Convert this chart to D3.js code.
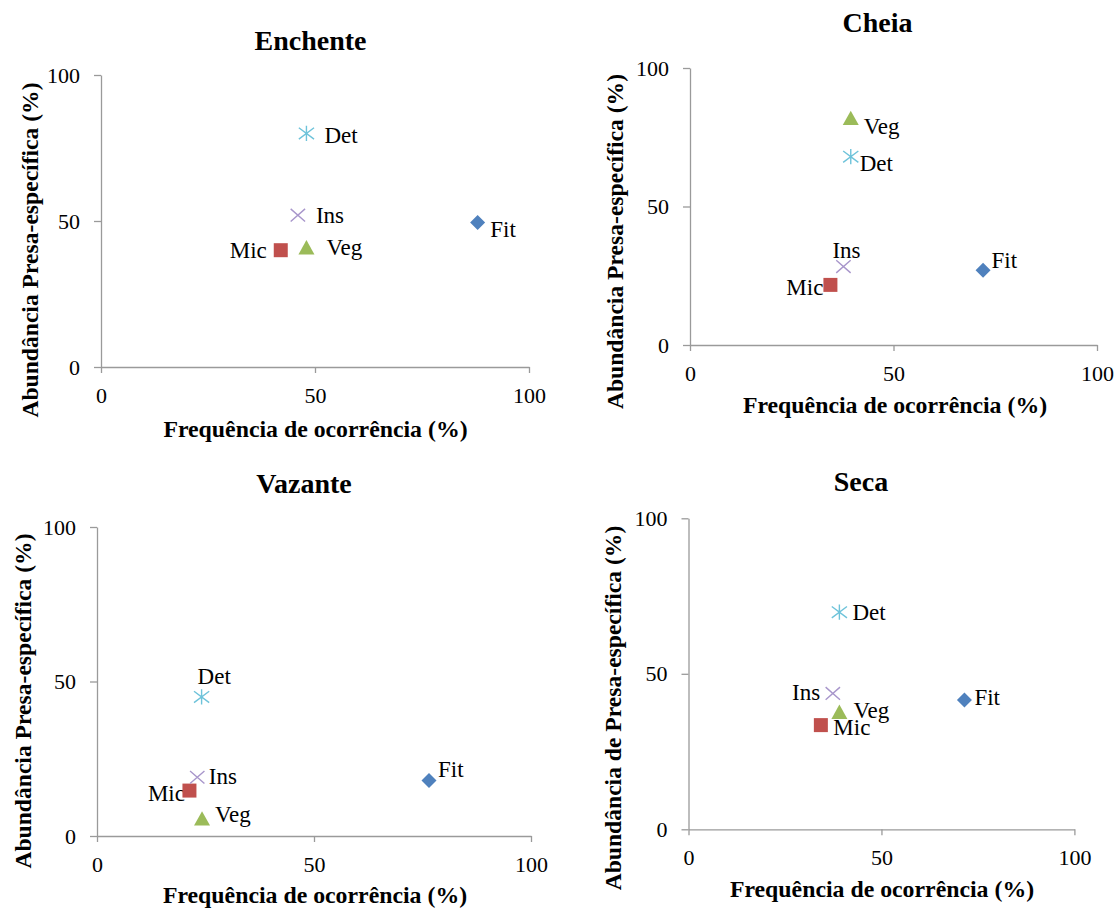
<!DOCTYPE html>
<html>
<head>
<meta charset="utf-8">
<script src="https://cdn.jsdelivr.net/npm/d3@7"></script>
<style>
  html, body { margin: 0; padding: 0; background: #fff; }
  svg { display: block; }
  text { font-family: "Liberation Serif", "Times New Roman", serif; fill: #000; }
</style>
</head>
<body>
<svg id="chart" width="1120" height="909"></svg>
<script>
// Prey categories and their values per hydrological season
const categories = ["Fit", "Mic", "Veg", "Ins", "Det"];

const enchenteFreq  = [88, 42, 48, 46, 48];
const enchenteAbund = [49.5, 40, 41, 52, 80];

const cheiaFreq  = [72, 34.5, 39.5, 37.7, 39.5];
const cheiaAbund = [27, 21.7, 82, 28.3, 68];

const vazanteFreq  = [76.5, 21.3, 24.2, 23.1, 24.1];
const vazanteAbund = [18, 14.7, 5.7, 19, 45];

const secaFreq  = [71.5, 34.3, 39.1, 37.4, 39.1];
const secaAbund = [41.6, 33.5, 37.8, 43.7, 69.8];

const tickValues = [0, 50, 100];
const seasonTitles = ["Enchente", "Cheia", "Vazante", "Seca"];
const xAxisTitle = "Frequência de ocorrência (%)";
const yAxisTitles = [
  "Abundância Presa-específica (%)",
  "Abundância Presa-específica (%)",
  "Abundância Presa-específica (%)",
  "Abundância de Presa-específica (%)"
];

// Marker styles per category
const markerStyle = {
  Fit: { shape: "diamond",  fill: "#4F81BD", stroke: "none" },
  Mic: { shape: "square",   fill: "#C0504D", stroke: "none" },
  Veg: { shape: "triangle", fill: "#9BBB59", stroke: "none" },
  Ins: { shape: "times",    fill: "none",    stroke: "#A896CB" },
  Det: { shape: "star",     fill: "none",    stroke: "#6EC3DA" }
};

// Custom symbol types; "size" is used as the half extent of the marker
const symbolTypes = {
  diamond:  { draw(c, s) { c.moveTo(0, -s); c.lineTo(s, 0); c.lineTo(0, s); c.lineTo(-s, 0); c.closePath(); } },
  square:   { draw(c, s) { c.rect(-s, -s, 2 * s, 2 * s); } },
  triangle: { draw(c, s) { c.moveTo(0, -s * 0.9); c.lineTo(s, s * 0.9); c.lineTo(-s, s * 0.9); c.closePath(); } },
  times:    { draw(c, s) { c.moveTo(-s, -s * 0.87); c.lineTo(s, s * 0.87); c.moveTo(-s, s * 0.87); c.lineTo(s, -s * 0.87); } },
  star:     { draw(c, s) { c.moveTo(0, -s); c.lineTo(0, s); c.moveTo(-s, -s * 0.75); c.lineTo(s, s * 0.75); c.moveTo(-s, s * 0.75); c.lineTo(s, -s * 0.75); } }
};
const symbolHalf = { diamond: 7.5, square: 7, triangle: 8, times: 7.2, star: 7.6 };

// Panel layout: plot rectangle and title positions
const panels = [
  { freq: enchenteFreq, abund: enchenteAbund,
    x0: 101, x1: 529, yb: 367, yt: 75,
    title: [310.5, 50], xt: [315.5, 436.7], ytl: [38, 250],
    labels: { Fit: ["start", 12.6, 6], Mic: ["end", -14, 0], Veg: ["start", 20, 0], Ins: ["start", 18, 0], Det: ["start", 18, 1.4] } },
  { freq: cheiaFreq, abund: cheiaAbund,
    x0: 690, x1: 1097, yb: 345, yt: 68,
    title: [877.5, 31.7], xt: [895, 413], ytl: [623, 241.5],
    labels: { Fit: ["start", 8.5, -10], Mic: ["end", -7, 2.5], Veg: ["start", 13, 8], Ins: ["middle", 3, -17], Det: ["start", 9, 6] } },
  { freq: vazanteFreq, abund: vazanteAbund,
    x0: 97, x1: 531, yb: 836, yt: 527,
    title: [304, 493.3], xt: [315, 903.3], ytl: [30.5, 701],
    labels: { Fit: ["start", 9, -11], Mic: ["end", -4.5, 2], Veg: ["start", 13, -4.6], Ins: ["start", 11.6, -1.5], Det: ["start", -4, -21.5] } },
  { freq: secaFreq, abund: secaAbund,
    x0: 688.5, x1: 1074.4, yb: 829.3, yt: 518.3,
    title: [861, 490.7], xt: [882, 897.3], ytl: [621.4, 708],
    labels: { Fit: ["start", 10, -3.3], Mic: ["start", 12.5, 2], Veg: ["start", 14, -1.7], Ins: ["end", -12.6, -1], Det: ["start", 13, 0] } }
];

const svg = d3.select("#chart");

panels.forEach((p, i) => {
  const g = svg.append("g");
  const x = d3.scaleLinear().domain([0, 100]).range([p.x0, p.x1]);
  const y = d3.scaleLinear().domain([0, 100]).range([p.yb, p.yt]);

  // Axes
  const styleAxis = sel => {
    sel.select(".domain").attr("stroke", "#9a9a9a").attr("stroke-width", 1.3);
    sel.selectAll(".tick line").attr("stroke", "#9a9a9a").attr("stroke-width", 1.3);
    sel.selectAll(".tick text")
      .attr("font-family", "Liberation Serif, Times New Roman, serif")
      .attr("font-size", 22).attr("fill", "#111");
  };
  g.append("g")
    .attr("transform", `translate(0,${p.yb})`)
    .call(d3.axisBottom(x).tickValues(tickValues).tickSize(6).tickSizeOuter(0).tickPadding(14))
    .call(styleAxis);
  g.append("g")
    .attr("transform", `translate(${p.x0},0)`)
    .call(d3.axisLeft(y).tickValues(tickValues).tickSize(7).tickSizeOuter(0).tickPadding(14))
    .call(styleAxis);

  // Titles
  g.append("text")
    .attr("x", p.title[0]).attr("y", p.title[1])
    .attr("text-anchor", "middle").attr("font-weight", "bold").attr("font-size", 28)
    .text(seasonTitles[i]);
  g.append("text")
    .attr("x", p.xt[0]).attr("y", p.xt[1])
    .attr("text-anchor", "middle").attr("font-weight", "bold").attr("font-size", 23.8)
    .text(xAxisTitle);
  g.append("text")
    .attr("transform", `translate(${p.ytl[0]},${p.ytl[1]}) rotate(-90)`)
    .attr("text-anchor", "middle").attr("font-weight", "bold").attr("font-size", 23.6)
    .text(yAxisTitles[i]);

  const pts = categories.map((c, k) => ({ cat: c, fx: p.freq[k], ay: p.abund[k] }));

  // Point labels
  g.selectAll("text.lbl").data(pts).join("text")
    .attr("class", "lbl")
    .attr("x", d => x(d.fx) + p.labels[d.cat][1])
    .attr("y", d => y(d.ay) + p.labels[d.cat][2])
    .attr("dy", "0.35em")
    .attr("text-anchor", d => p.labels[d.cat][0])
    .attr("font-size", 23)
    .text(d => d.cat);

  // Markers
  g.selectAll("path.mk").data(pts).join("path")
    .attr("class", "mk")
    .attr("transform", d => `translate(${x(d.fx)},${y(d.ay)})`)
    .attr("d", d => {
      const st = markerStyle[d.cat];
      return d3.symbol().type(symbolTypes[st.shape]).size(symbolHalf[st.shape])();
    })
    .attr("fill", d => markerStyle[d.cat].fill)
    .attr("stroke", d => markerStyle[d.cat].stroke)
    .attr("stroke-width", 1.4);
});
</script>
</body>
</html>
